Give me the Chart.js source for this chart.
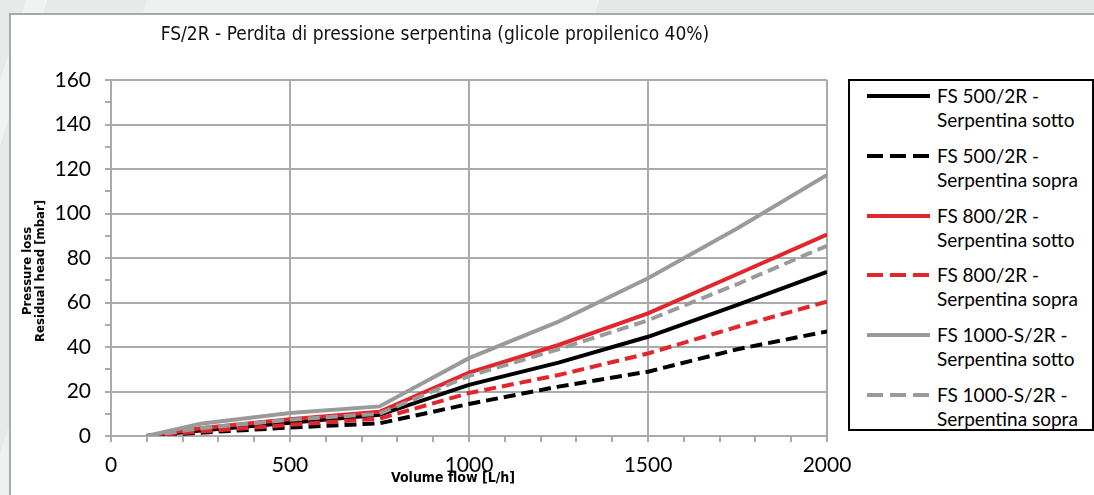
<!DOCTYPE html>
<html>
<head>
<meta charset="utf-8">
<script src="https://cdn.jsdelivr.net/npm/chart.js@4.4.1/dist/chart.umd.min.js"></script>
<style>
  body {
    margin: 0;
    width: 1094px;
    height: 495px;
    overflow: hidden;
    position: relative;
    background: linear-gradient(108deg, #e8eaea 0 25px, #f1f2f2 25px 45px, #e8eaea 45px 140px, #eff0f0 140px 570px, #e6e8e8 570px 100%);
    font-family: Lato, sans-serif;
  }
  #frame {
    position: absolute;
    left: 9px;
    top: 13px;
    width: 1100px;
    height: 500px;
    background: #fff;
    border-left: 2px solid #a8a8a8;
    border-top: 2px solid #a8a8a8;
  }
  #chart {
    position: absolute;
    left: 0;
    top: 0;
  }
  .narrow { font-family: 'Liberation Sans Narrow', 'DejaVu Sans Condensed', sans-serif; }
  #title {
    position: absolute;
    left: 435px;
    top: 33px;
    transform: translate(-50%, -50%);
    font-size: 19px;
    white-space: nowrap;
    color: #111;
  }
  #ytitle {
    position: absolute;
    left: 33px;
    top: 271px;
    transform: translate(-50%, -50%) rotate(-90deg);
    font-size: 13px;
    font-weight: bold;
    line-height: 13px;
    text-align: center;
    white-space: nowrap;
  }
  #xtitle {
    position: absolute;
    left: 453px;
    top: 477px;
    transform: translate(-50%, -50%);
    font-size: 14px;
    font-weight: bold;
    white-space: nowrap;
  }
  #legend {
    position: absolute;
    left: 848px;
    top: 79px;
    width: 242px;
    height: 348px;
    border: 2px solid #000;
    background: #fff;
  }
  .item {
    position: absolute;
    left: 17px;
    font-size: 19px;
    line-height: 24px;
    color: #000;
  }
  .sample {
    position: absolute;
    left: 0;
    top: 10px;
    width: 63px;
    height: 4px;
  }
  .label {
    position: absolute;
    left: 70px;
    top: 0;
    white-space: nowrap;
  }
</style>
</head>
<body>
<div id="frame"></div>
<canvas id="chart" width="1094" height="495"></canvas>
<div id="title" class="narrow">FS/2R - Perdita di pressione serpentina (glicole propilenico 40%)</div>
<div id="ytitle" class="narrow">Pressure loss<br>Residual head [mbar]</div>
<div id="xtitle" class="narrow">Volume flow [L/h]</div>
<div id="legend"></div>
<script>
// volume flow [L/h]
var flow = [100, 250, 500, 750, 1000, 1250, 1500, 1750, 2000];

// pressure loss [mbar]
var fs500Sotto = [0, 2.5, 6, 9.5, 23, 33, 44.6, 58.9, 73.8];
var fs500Sopra = [0, 1.5, 3.8, 5.7, 14.4, 22.2, 28.9, 39, 47];
var fs800Sotto = [0, 3.5, 7.5, 10.9, 28.5, 40.9, 55.1, 72.8, 90.5];
var fs800Sopra = [0, 2, 5, 7.8, 19.3, 27.4, 37.1, 49.1, 60.4];
var fs1000Sotto = [0, 5.5, 10.3, 13.3, 35, 51.4, 70.9, 93.4, 117.3];
var fs1000Sopra = [0, 3.5, 7.3, 10, 27, 39, 52, 68.3, 85.5];

var seriesNames = [
  ['FS 500/2R -', 'Serpentina sotto'],
  ['FS 500/2R -', 'Serpentina sopra'],
  ['FS 800/2R -', 'Serpentina sotto'],
  ['FS 800/2R -', 'Serpentina sopra'],
  ['FS 1000-S/2R -', 'Serpentina sotto'],
  ['FS 1000-S/2R -', 'Serpentina sopra']
];
var seriesValues = [fs500Sotto, fs500Sopra, fs800Sotto, fs800Sopra, fs1000Sotto, fs1000Sopra];
var seriesColors = ['#000000', '#000000', '#e1262c', '#e1262c', '#9a9a9a', '#9a9a9a'];
var seriesDashed = [false, true, false, true, false, true];

var gridColor = '#aaaaaa';

function points(values) {
  return flow.map(function (f, i) { return { x: f, y: values[i] }; });
}

var datasets = seriesValues.map(function (values, i) {
  return {
    label: seriesNames[i].join(' '),
    data: points(values),
    borderColor: seriesColors[i],
    backgroundColor: seriesColors[i],
    borderWidth: 4,
    borderDash: seriesDashed[i] ? [12, 6] : [],
    pointRadius: 0,
    tension: 0,
    fill: false,
    order: seriesValues.length - i
  };
});

var ctx = document.getElementById('chart').getContext('2d');

new Chart(ctx, {
  type: 'line',
  data: { datasets: datasets },
  options: {
    responsive: false,
    animation: false,
    events: [],
    layout: { padding: { left: 0, top: 80, right: 267, bottom: 0 } },
    plugins: {
      legend: { display: false },
      tooltip: { enabled: false }
    },
    scales: {
      x: {
        type: 'linear',
        min: 0,
        max: 2000,
        afterFit: function (scale) { scale.height = 59; },
        ticks: {
          stepSize: 100,
          autoSkip: false,
          maxRotation: 0,
          padding: 11,
          color: '#000',
          font: { family: 'Lato', size: 21 },
          callback: function (v) { return v % 500 === 0 ? v : ''; }
        },
        grid: {
          color: function (c) { return c.tick && c.tick.value % 500 === 0 ? gridColor : 'rgba(0,0,0,0)'; },
          tickColor: gridColor,
          lineWidth: 2,
          tickLength: 6
        },
        border: { color: gridColor, width: 2 }
      },
      y: {
        min: 0,
        max: 160,
        afterFit: function (scale) { scale.width = 111; },
        ticks: {
          stepSize: 10,
          autoSkip: false,
          padding: 14,
          color: '#000',
          font: { family: 'Lato', size: 21 },
          callback: function (v) { return v % 20 === 0 ? v : ''; }
        },
        grid: {
          color: function (c) { return c.tick && c.tick.value % 20 === 0 ? gridColor : 'rgba(0,0,0,0)'; },
          tickColor: gridColor,
          lineWidth: 2,
          tickLength: 6
        },
        border: { color: gridColor, width: 2 }
      }
    }
  }
});

// legend with two-line labels
var legend = document.getElementById('legend');
seriesNames.forEach(function (name, i) {
  var item = document.createElement('div');
  item.className = 'item';
  item.style.top = (3 + i * 59.8) + 'px';
  var sample = document.createElement('div');
  sample.className = 'sample';
  sample.style.background = seriesDashed[i]
    ? 'repeating-linear-gradient(to right, ' + seriesColors[i] + ' 0 16px, transparent 16px 23px)'
    : seriesColors[i];
  var label = document.createElement('div');
  label.className = 'label';
  label.innerHTML = name[0] + '<br>' + name[1];
  item.appendChild(sample);
  item.appendChild(label);
  legend.appendChild(item);
});
</script>
</body>
</html>
